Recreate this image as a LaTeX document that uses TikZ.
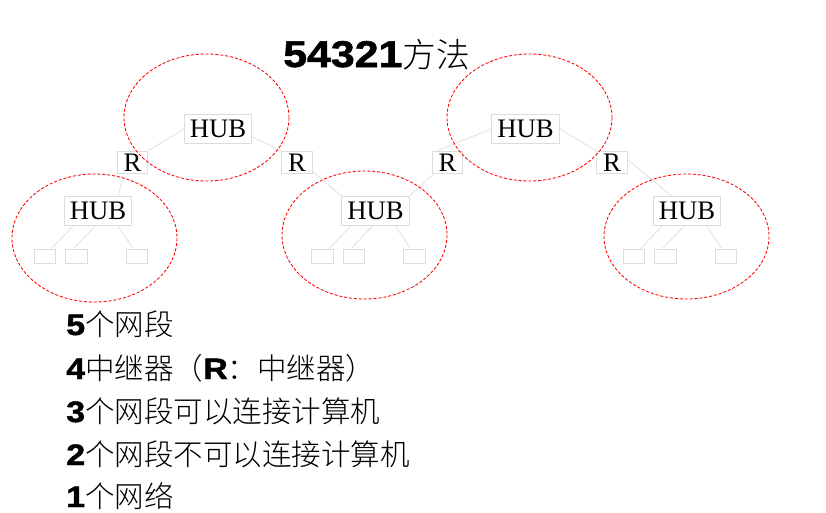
\documentclass[tikz,border=0pt]{standalone}
\usepackage{fontspec}
\setmainfont{Liberation Serif}
\IfFontExistsTF{Noto Sans CJK SC Light}
  {\newfontfamily\cjk{Noto Sans CJK SC Light}}
  {\newfontfamily\cjk{Noto Sans CJK SC}}
\newfontfamily\numfont{Liberation Sans}[BoldFeatures={FakeStretch=1.15, FakeBold=1.5}]
\usetikzlibrary{calc}

\definecolor{linkgray}{RGB}{228,228,228}
\definecolor{boxgray}{RGB}{220,220,220}
\definecolor{ringred}{RGB}{255,0,0}

\newcommand\segline[2]{{\numfont\bfseries #1}{\cjk #2}}

\begin{document}
\begin{tikzpicture}[x=0.025cm, y=-0.025cm,
                hub node/.style={draw=boxgray, line width=0.7pt, inner sep=0pt,
                  minimum width=48pt, minimum height=21pt, font=\fontsize{19}{19}\selectfont},
                rep node/.style={hub node, minimum width=22pt, minimum height=16.3pt},
                pc node/.style={draw=boxgray, line width=0.7pt, inner sep=0pt,
                  minimum width=15.6pt, minimum height=10.6pt},
                seg ring/.style={draw=ringred, line width=0.6pt, dash pattern=on 2.2pt off 1.3pt},
                link/.style={draw=linkgray, line width=0.7pt},
                text line/.style={anchor=base west, inner sep=0pt, font=\fontsize{21}{21}\selectfont}]

            \useasboundingbox (0,0) rectangle (826,512);

            % Title
            \node[anchor=base west, inner sep=0pt] (title) at (283,67)
              {{\numfont\bfseries\fontsize{26.5}{26.5}\selectfont 54321}{\cjk\fontsize{24}{24}\selectfont 方法}};

            % Nodes
            \node[hub node] (hubA) at (218,129) {HUB};
            \node[hub node] (hubD) at (525.5,129) {HUB};
            \node[hub node] (hubB) at (98,211) {HUB};
            \node[hub node] (hubC) at (375.5,211) {HUB};
            \node[hub node] (hubE) at (687,211) {HUB};

            \node[rep node] (rA) at (132.5,162.5) {R};
            \node[rep node] (rB) at (297,162.5) {R};
            \node[rep node] (rC) at (447.5,162.5) {R};
            \node[rep node] (rD) at (612,162.5) {R};

            % Computers under each lower hub
            \foreach \h in {hubB,hubC,hubE}{
              \node[pc node] (\h-1) at ($(\h)+(-53,45.5)$) {};
              \node[pc node] (\h-2) at ($(\h)+(-21.5,45.5)$) {};
              \node[pc node] (\h-3) at ($(\h)+(39,45.5)$) {};
              \draw[link] ($(\h.south)+(-25,0)$) -- ($(\h-1.north)+(6.5,0)$);
              \draw[link] ($(\h.south)+(-3,0)$) -- ($(\h-2.north)+(-3,0)$);
              \draw[link] ($(\h.south)+(20,0)$) -- ($(\h-3.north)+(-4,0)$);
            }

            % Edges
            \draw[link] (hubA.west) -- (rA.north east);
            \draw[link] (hubA.-13) -- (rB.north west);
            \draw[link] (rA.233) -- (hubB.37);
            \draw[link] (rB.-30) -- (hubC.north west);
            \draw[link] (hubD.west) -- (rC.130);
            \draw[link] (rC.220) -- (hubC.north east);
            \draw[link] (hubD.east) -- (rD.north west);
            \draw[link] (rD.10) -- (hubE.136);

            % Segments
            \draw[seg ring] (206.5,117.5) ellipse [x radius=82.5, y radius=63.5];
            \draw[seg ring] (529.5,117.5) ellipse [x radius=82.5, y radius=63.5];
            \draw[seg ring] (94.5,238) ellipse [x radius=82.5, y radius=64];
            \draw[seg ring] (364.5,235) ellipse [x radius=82.5, y radius=64];
            \draw[seg ring] (686.5,236.5) ellipse [x radius=82.5, y radius=62.5];

            % Rules
            \node[text line] (line5) at (66,335) {\segline{5}{个网段}};
            \node[text line] (line4) at (66,379) {\segline{4}{中继器（}{\numfont\bfseries R}{\cjk ：中继器）}};
            \node[text line] (line3) at (66,422) {\segline{3}{个网段可以连接计算机}};
            \node[text line] (line2) at (66,465) {\segline{2}{个网段不可以连接计算机}};
            \node[text line] (line1) at (66,507) {\segline{1}{个网络}};

        \end{tikzpicture}
\end{document}
